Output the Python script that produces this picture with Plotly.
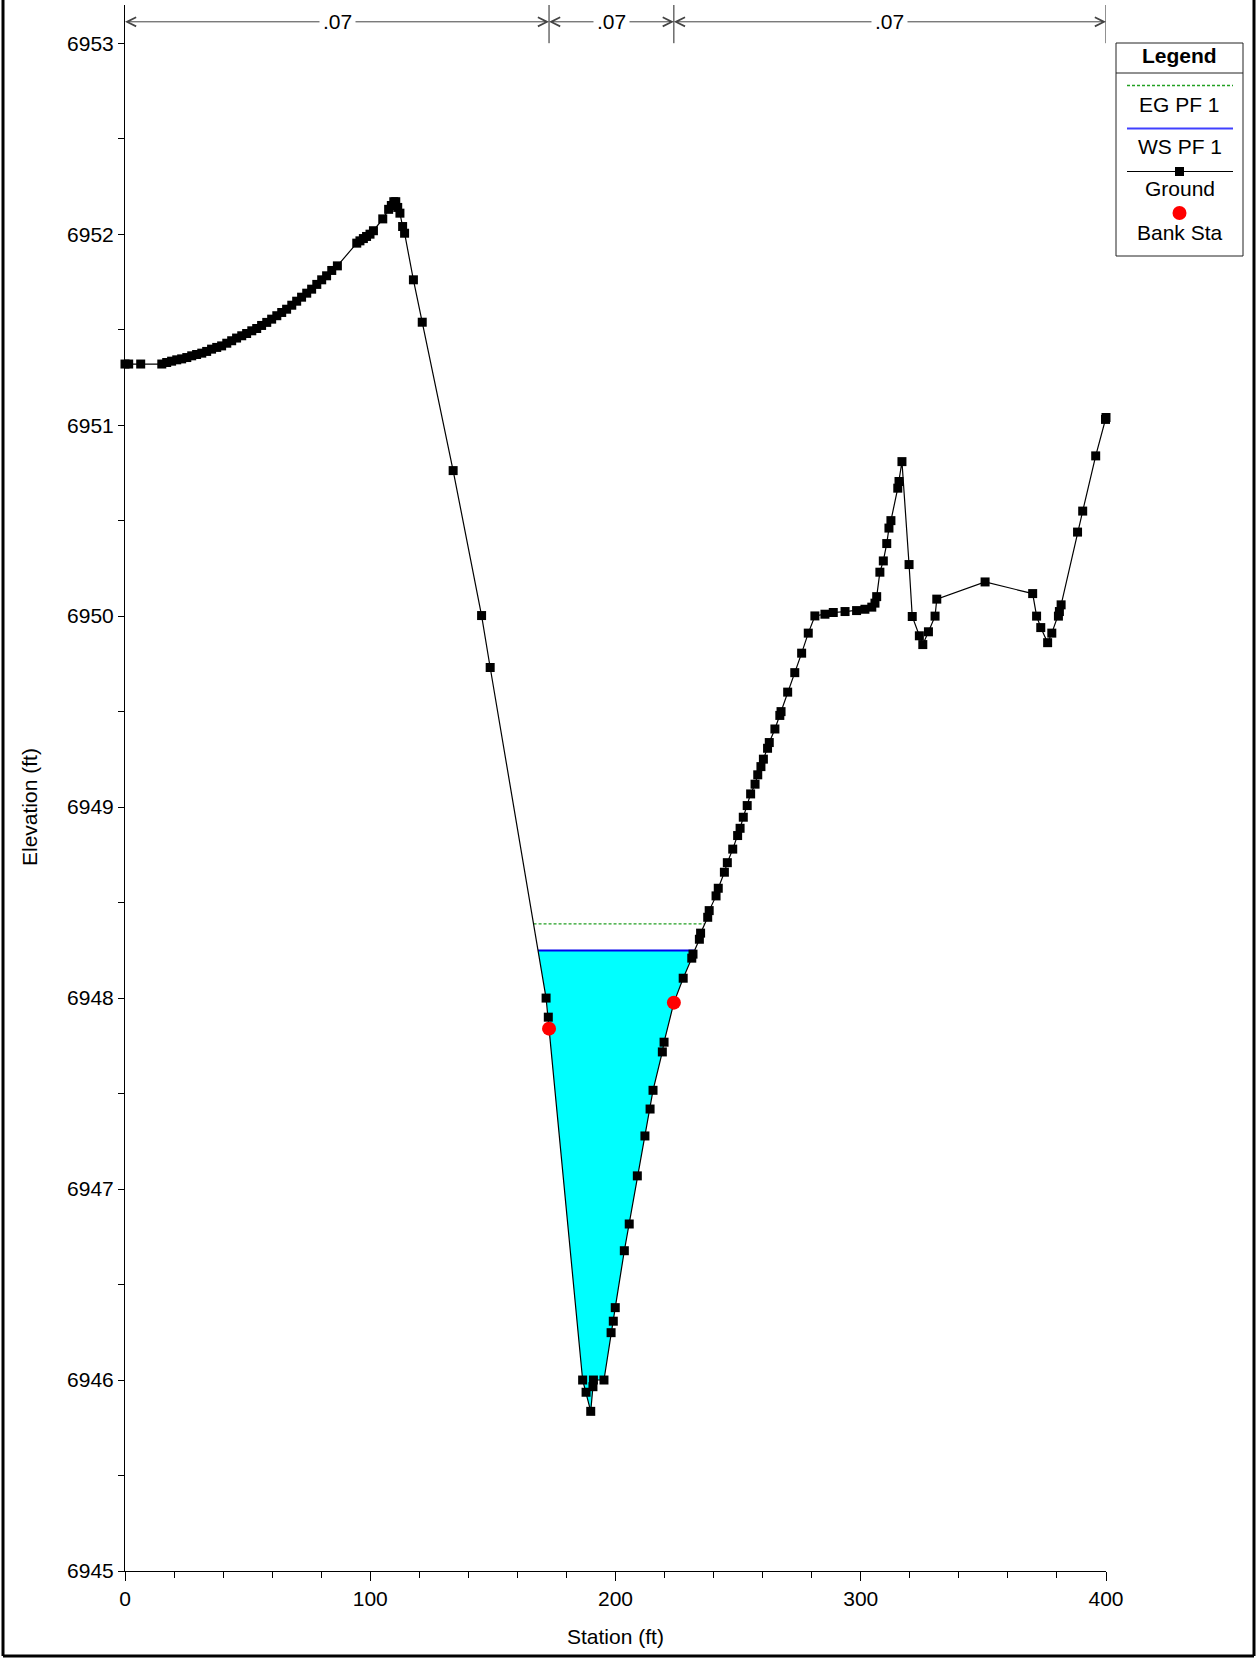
import numpy as np
import plotly.graph_objects as go

# ---------------- data ----------------
ground_sta = [0.0, 1.5, 6.4, 15.0, 17.0, 19.0, 21.1, 23.1, 25.2, 27.2, 29.2, 31.3, 33.3, 35.3,
              37.4, 39.4, 41.5, 43.5, 45.5, 47.6, 49.6, 51.7, 53.7, 55.7, 57.8, 59.8, 61.9, 63.9,
              65.9, 68.0, 70.0, 72.0, 74.1, 76.1, 78.2, 80.2, 82.2, 84.3, 86.6, 94.5, 95.8, 97.2,
              98.5, 99.9, 101.3, 105.1, 107.5, 108.6, 109.6, 110.4, 111.2, 112.1, 113.2, 114.0,
              117.6, 121.2, 133.8, 145.4, 148.9, 171.7, 172.6, 172.9, 186.6, 188.0, 189.9, 190.8,
              191.0, 195.3, 198.2, 199.1, 199.9, 203.6, 205.6, 208.9, 212.0, 214.1, 215.3, 219.1,
              219.8, 223.8, 227.6, 231.1, 231.6, 234.2, 234.7, 237.6, 238.2, 241.0, 241.9, 244.4,
              245.6, 247.8, 249.8, 250.8, 252.1, 253.7, 255.1, 256.9, 258.0, 259.3, 260.3, 262.0,
              262.7, 265.0, 267.0, 267.5, 270.2, 273.1, 275.9, 278.6, 281.3, 285.4, 288.8, 293.6,
              298.3, 301.7, 304.5, 305.8, 306.5, 307.8, 309.2, 310.6, 311.5, 312.3, 315.1, 315.6,
              316.8, 319.7, 321.0, 323.9, 325.3, 327.6, 330.3, 331.0, 350.7, 370.1, 371.7, 373.4,
              376.2, 377.9, 380.6, 381.0, 381.7, 388.4, 390.5, 395.8, 399.8, 400.0]
ground_elev = [6951.32, 6951.32, 6951.32, 6951.32, 6951.328, 6951.335, 6951.342, 6951.347,
               6951.354, 6951.363, 6951.370, 6951.377, 6951.386, 6951.398, 6951.407, 6951.415,
               6951.429, 6951.442, 6951.456, 6951.468, 6951.480, 6951.494, 6951.506, 6951.522,
               6951.538, 6951.555, 6951.573, 6951.590, 6951.607, 6951.628, 6951.649, 6951.670,
               6951.691, 6951.712, 6951.737, 6951.761, 6951.782, 6951.810, 6951.834, 6951.953,
               6951.965, 6951.977, 6951.988, 6952.000, 6952.018, 6952.080, 6952.130, 6952.150,
               6952.170, 6952.170, 6952.140, 6952.110, 6952.040, 6952.005, 6951.761, 6951.539,
               6950.762, 6950.003, 6949.731, 6948.000, 6947.900, 6947.840, 6946.000, 6945.936,
               6945.836, 6945.965, 6946.000, 6946.000, 6946.248, 6946.308, 6946.379, 6946.677,
               6946.817, 6947.069, 6947.278, 6947.419, 6947.517, 6947.718, 6947.769, 6947.976,
               6948.104, 6948.209, 6948.230, 6948.308, 6948.340, 6948.423, 6948.458, 6948.535,
               6948.575, 6948.659, 6948.709, 6948.780, 6948.851, 6948.889, 6948.947, 6949.008,
               6949.069, 6949.120, 6949.169, 6949.212, 6949.251, 6949.308, 6949.338, 6949.409,
               6949.480, 6949.500, 6949.602, 6949.704, 6949.806, 6949.911, 6950.001, 6950.010,
               6950.019, 6950.024, 6950.029, 6950.036, 6950.047, 6950.068, 6950.102, 6950.230,
               6950.289, 6950.380, 6950.461, 6950.500, 6950.670, 6950.705, 6950.809, 6950.270,
               6949.998, 6949.897, 6949.851, 6949.918, 6950.000, 6950.089, 6950.179, 6950.118,
               6950.000, 6949.940, 6949.861, 6949.911, 6950.000, 6950.024, 6950.059, 6950.440,
               6950.550, 6950.839, 6951.030, 6951.040]
bank_sta = [172.9, 223.8]
bank_elev = [6947.84, 6947.976]
ws_elev = 6948.249
eg_elev = 6948.388
n_values = [".07", ".07", ".07"]
n_breaks = [0.0, 172.9, 223.8, 400.0]

FONT = "Liberation Sans, Arial, sans-serif"
gx = np.array(ground_sta)
gy = np.array(ground_elev)


def crossing(level):
    i0 = int(np.argmin(gy))
    i = i0
    while gy[i - 1] < level:
        i -= 1
    xl = gx[i - 1] + (level - gy[i - 1]) / (gy[i] - gy[i - 1]) * (gx[i] - gx[i - 1])
    li = i
    j = i0
    while gy[j + 1] < level:
        j += 1
    xr = gx[j] + (level - gy[j]) / (gy[j + 1] - gy[j]) * (gx[j + 1] - gx[j])
    return xl, xr, li, j


wl, wr, li, ri = crossing(ws_elev)
el, er, _, _ = crossing(eg_elev)
fill_x = [wl] + list(gx[li:ri + 1]) + [wr, wl]
fill_y = [ws_elev] + list(gy[li:ri + 1]) + [ws_elev, ws_elev]

fig = go.Figure()
fig.add_trace(go.Scatter(x=fill_x, y=fill_y, mode="lines", fill="toself",
                         fillcolor="#00ffff", line=dict(width=0), hoverinfo="skip",
                         showlegend=False))
fig.add_trace(go.Scatter(x=[el, er], y=[eg_elev, eg_elev], mode="lines",
                         line=dict(color="#22a022", width=1.3, dash="3px,2px"),
                         showlegend=False))
fig.add_trace(go.Scatter(x=[wl, wr], y=[ws_elev, ws_elev], mode="lines",
                         line=dict(color="#0000ee", width=2), showlegend=False))
fig.add_trace(go.Scatter(x=ground_sta, y=ground_elev, mode="lines+markers",
                         line=dict(color="black", width=1.2),
                         marker=dict(symbol="square", size=9, color="black"),
                         cliponaxis=False, showlegend=False))
fig.add_trace(go.Scatter(x=bank_sta, y=bank_elev, mode="markers",
                         marker=dict(symbol="circle", size=14, color="#ff0000"),
                         cliponaxis=False, showlegend=False))

# plot geometry (px)
L, R, T, B = 125, 1106, 5, 1571
W, H = 1259, 1659


def PX(p):
    return (p - L) / (R - L)


def PY(p):
    return (B - p) / (B - T)


shapes = []
annotations = []

# Manning's n dimension lines
arrow_y = 6953.112
for k in range(len(n_values)):
    a, b = n_breaks[k], n_breaks[k + 1]
    mid = (a + b) / 2
    for end in (a, b):
        annotations.append(dict(x=end, y=arrow_y, ax=mid, ay=arrow_y, xref="x", yref="y",
                                axref="x", ayref="y", text="", showarrow=True,
                                arrowhead=5, arrowsize=1.8, arrowwidth=1,
                                arrowcolor="#444444"))
for k in range(len(n_values)):
    a, b = n_breaks[k], n_breaks[k + 1]
    annotations.append(dict(x=(a + b) / 2, y=arrow_y, xref="x", yref="y", text=n_values[k],
                            showarrow=False, bgcolor="white", borderpad=3,
                            font=dict(family=FONT, size=21, color="black")))
for xb in n_breaks[1:]:
    shapes.append(dict(type="line", xref="x", yref="y", x0=xb, x1=xb, y0=6953.0, y1=6953.2,
                       line=dict(color="#222222", width=1)))

# legend (drawn manually)
lx0, lx1, ly0, ly1 = 1116, 1243, 43, 256
shapes.append(dict(type="rect", xref="paper", yref="paper", x0=PX(lx0), x1=PX(lx1),
                   y0=PY(ly1), y1=PY(ly0), line=dict(color="#222222", width=1),
                   fillcolor="white"))
shapes.append(dict(type="line", xref="paper", yref="paper", x0=PX(lx0), x1=PX(lx1),
                   y0=PY(73), y1=PY(73), line=dict(color="#222222", width=1)))
cx = (lx0 + lx1) / 2
sx0, sx1 = 1127, 1233
shapes.append(dict(type="line", xref="paper", yref="paper", x0=PX(sx0), x1=PX(sx1),
                   y0=PY(85.5), y1=PY(85.5), line=dict(color="#22a022", width=1.3, dash="3px,2px")))
shapes.append(dict(type="line", xref="paper", yref="paper", x0=PX(sx0), x1=PX(sx1),
                   y0=PY(128.5), y1=PY(128.5), line=dict(color="#4040ff", width=2)))
shapes.append(dict(type="line", xref="paper", yref="paper", x0=PX(sx0), x1=PX(sx1),
                   y0=PY(171.5), y1=PY(171.5), line=dict(color="black", width=1)))
shapes.append(dict(type="rect", xref="paper", yref="paper", x0=PX(cx - 4.5), x1=PX(cx + 4.5),
                   y0=PY(176), y1=PY(167), line=dict(width=0), fillcolor="black"))
shapes.append(dict(type="circle", xref="paper", yref="paper", x0=PX(cx - 7), x1=PX(cx + 7),
                   y0=PY(220), y1=PY(206), line=dict(width=0), fillcolor="#ff0000"))
legend_items = [("<b>Legend</b>", 55.5), ("EG PF 1", 104.5), ("WS PF 1", 146.5),
                ("Ground", 189), ("Bank Sta", 232)]
for txt, yy in legend_items:
    annotations.append(dict(x=PX(cx), y=PY(yy), xref="paper", yref="paper", text=txt,
                            showarrow=False, xanchor="center", yanchor="middle",
                            font=dict(family=FONT, size=21, color="black")))

# axis titles
annotations.append(dict(x=PX((L + R) / 2), y=PY(1637), xref="paper", yref="paper",
                        text="Station (ft)", showarrow=False, xanchor="center", yanchor="middle",
                        font=dict(family=FONT, size=21, color="black")))
annotations.append(dict(x=PX(30), y=PY(807), xref="paper", yref="paper",
                        text="Elevation (ft)", showarrow=False, textangle=-90,
                        xanchor="center", yanchor="middle",
                        font=dict(family=FONT, size=21, color="black")))

# outer frame
for (x0, y0, x1, y1) in [(3, 0, 3, 1656), (1254, 0, 1254, 1656), (3, 1656, 1254, 1656)]:
    shapes.append(dict(type="line", xref="paper", yref="paper", x0=PX(x0), x1=PX(x1),
                       y0=PY(y0), y1=PY(y1), line=dict(color="black", width=3)))

fig.update_layout(
    width=W, height=H,
    margin=dict(l=L, r=W - R, t=T, b=H - B, pad=0),
    paper_bgcolor="white", plot_bgcolor="white",
    showlegend=False,
    font=dict(family=FONT, size=21, color="black"),
    shapes=shapes, annotations=annotations,
    xaxis=dict(range=[0, 400], dtick=100, tick0=0, showgrid=False, zeroline=False,
               showline=True, linecolor="black", linewidth=1, ticks="outside", ticklen=9,
               tickcolor="black", tickfont=dict(family=FONT, size=21),
               minor=dict(dtick=20, ticks="outside", ticklen=6, tickcolor="black")),
    yaxis=dict(range=[6945, 6953.2], dtick=1, tick0=6945, showgrid=False, zeroline=False,
               showline=True, linecolor="black", linewidth=1, ticks="outside", ticklen=6,
               tickcolor="black", tickfont=dict(family=FONT, size=21), tickformat="d",
               minor=dict(dtick=0.5, ticks="outside", ticklen=6, tickcolor="black")),
)

fig.write_html("out.html", config={"displayModeBar": False},
               post_script="document.body.style.margin='0';document.body.style.overflow='hidden';")
